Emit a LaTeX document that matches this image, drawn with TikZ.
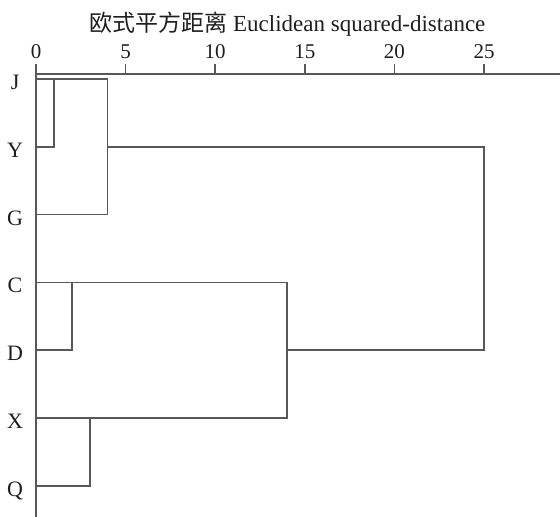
\documentclass[tikz,border=0pt]{standalone}
\usepackage{fontspec}
\setmainfont{Liberation Serif}
\newfontfamily\cjk{Noto Sans CJK SC}
\usetikzlibrary{positioning}
\definecolor{linegray}{RGB}{88,88,88}
\definecolor{txtgray}{RGB}{30,30,30}

\begin{document}
\begin{tikzpicture}[x=17.92pt, y=-1pt, lnk/.style={draw=linegray, line width=1.6pt},
	leaf/.style={anchor=base, text=txtgray, font=\fontsize{22}{22}\selectfont},
	tck/.style={anchor=base, text=txtgray, font=\fontsize{21}{21}\selectfont}]
\useasboundingbox (-2.009,0) rectangle (29.241,517);
\node[anchor=base, text=txtgray, font=\fontsize{23}{23}\selectfont] (title) at (14.03, 31) {{\cjk 欧式平方距离} Euclidean squared-distance};
\coordinate (xend) at (29.241, 74);
\coordinate (yend) at (0, 517);
\foreach \t in {0,5,...,25} {
	\coordinate (t\t) at (\t, 74);
	\node[tck] (l\t) at (\t, 58.5) {\t};
	\draw[lnk] (t\t) -- ++(0,-10);
}
\draw[lnk] (xend) -- (t0) -- (yend);
\foreach \h in {1,2,3,4,14,25}
	\coordinate (h\h) at (\h, 74);
\foreach \n/\r in {J/0,Y/1,G/2,C/3,D/4,X/5,Q/6} {
	\coordinate (\n) at (0, 79+67.8*\r);
	\node[leaf] (n\n) at (-1.17, 89.5+67.8*\r) {\n};
}
\draw[lnk] (J) -- (J -| h4) -- (G -| h4) -- (G);
\draw[lnk] (Y) -- (Y -| h1) -- (J -| h1);
\draw[lnk] (Y -| h4) -- (Y -| h25) -- (D -| h25) -- (D -| h14);
\draw[lnk] (C) -- (C -| h14) -- (X -| h14) -- (X);
\draw[lnk] (D) -- (D -| h2) -- (C -| h2);
\draw[lnk] (Q) -- (Q -| h3) -- (X -| h3);
\end{tikzpicture}
\end{document}
